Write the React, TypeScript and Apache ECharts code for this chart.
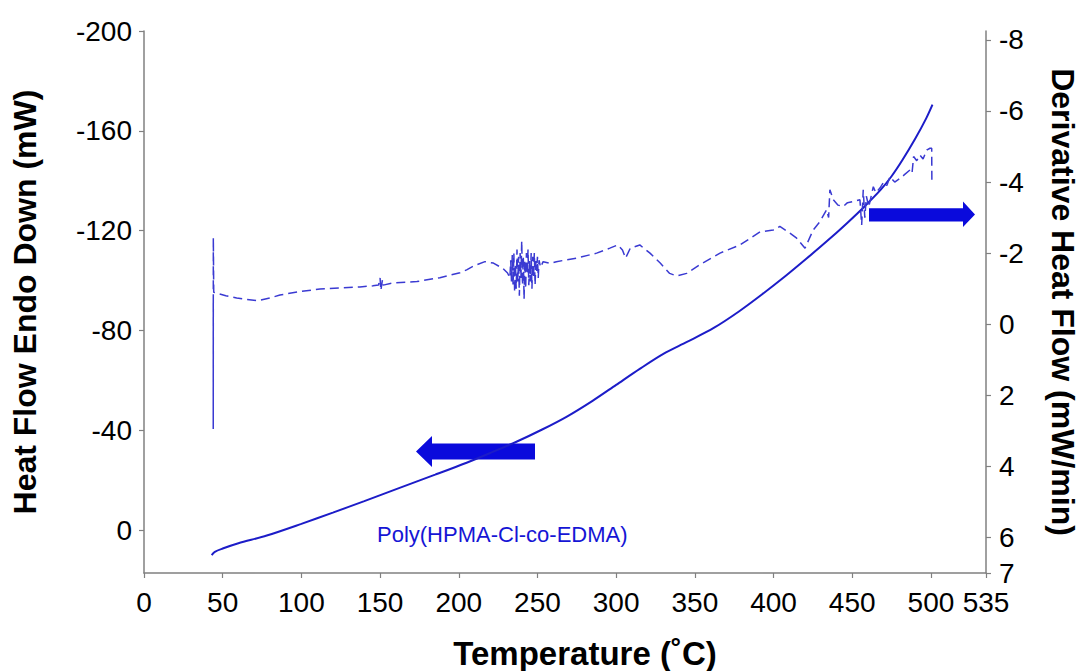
import React, { useEffect, useRef } from "react";
import * as echarts from "echarts";

// Heat flow (left axis, mW) vs temperature (°C)
const heatTemp = [43, 45, 50, 60, 78, 100, 120, 140, 162, 185, 205, 220, 237, 253, 269, 285, 300, 315, 330, 345, 362, 378, 393, 408, 421, 434, 447, 458, 468, 475, 482, 490, 497, 501];
const heatFlow = [10, 8.7, 7.4, 5.3, 2.2, -2.5, -7.0, -11.6, -16.8, -22.2, -27.0, -30.9, -35.5, -40.3, -45.6, -51.8, -58.2, -64.6, -70.6, -75.4, -81.0, -87.6, -94.6, -102.0, -108.8, -115.8, -123.2, -129.8, -136.3, -141.8, -148.4, -156.8, -165.0, -170.5];

// Derivative heat flow (right axis, mW/min) vs temperature (°C)
const derivTemp = [
  44.0, 44.0, 44.05, 44.3, 46.2, 52, 58.9, 65, 72.4, 80, 86.4, 99.1, 111.8, 124.5, 137.2, 145.5, 149, 150, 150.5, 151.5, 152,
  158.2, 173.4, 188, 200.8, 205, 210, 216.6, 222, 228, 231,
  232.5, 233, 233.5, 234, 234.5, 235, 235.5, 236, 236.5, 237, 237.5, 238, 238.5, 239, 239.5, 240, 240.5, 241, 241.5, 242,
  242.5, 243, 243.5, 244, 244.5, 245, 245.5, 246, 246.5, 247, 247.5, 248, 248.5, 249, 249.5, 250, 250.5, 251, 252,
  253.6, 258, 262, 275, 287.6, 296, 301, 304, 306, 309, 315, 321.5, 328, 334, 338.4, 344.8, 353, 366, 378.7, 391.4,
  399.8, 404, 410.4, 414.7, 420, 425.2, 429.5, 433.7, 435, 435.8, 438, 441, 444.3, 447, 450.6, 454.9, 456, 457, 458, 459,
  460.5, 463.4, 465, 467.6, 470, 472, 474, 477, 480.3, 483, 486.7, 488, 489, 491, 493, 495, 497.3, 499.4, 500.5, 500.6
];
const derivFlow = [
  -0.6, 2.95, -2.43, -0.9, -0.87, -0.8, -0.74, -0.7, -0.66, -0.74, -0.82, -0.92, -0.99, -1.02, -1.05, -1.08, -1.1, -1.3, -0.95, -1.25, -1.1,
  -1.16, -1.2, -1.31, -1.45, -1.53, -1.65, -1.76, -1.72, -1.57, -1.44,
  -1.3, -1.8, -1.2, -1.95, -1.1, -2.0, -0.9, -1.7, -1.0, -2.1, -1.2, -1.9, -0.8, -2.0, -1.3, -2.35, -1.1, -1.9, -0.7, -1.8,
  -1.0, -2.0, -1.4, -2.1, -1.1, -1.8, -1.2, -2.0, -1.0, -1.9, -1.3, -2.0, -1.1, -1.8, -1.5, -1.9, -1.3, -1.8, -1.6,
  -1.76, -1.71, -1.76, -1.86, -2.0, -2.14, -2.23, -2.09, -1.86, -2.14, -2.23, -2.0, -1.72, -1.43, -1.36, -1.43, -1.67, -2.0, -2.23, -2.6,
  -2.65, -2.75, -2.56, -2.42, -2.14, -2.65, -2.89, -3.22, -3.0, -3.78, -3.5, -3.35, -3.31, -3.42, -3.45, -3.5, -2.79, -3.78, -3.0, -3.6,
  -3.3, -3.87, -3.7, -3.83, -4.0, -3.9, -4.15, -4.0, -4.1, -4.2, -4.34, -4.25, -4.72, -4.6, -4.76, -4.65, -4.9, -4.95, -4.95, -4.06
];

const xTicks = { min: 0, max: 535, interval: 50 };
const leftTicks = [-200, -160, -120, -80, -40, 0];
const rightTicks = [-8, -6, -4, -2, 0, 2, 4, 6, 7];

const SANS = "'Liberation Sans', Arial, sans-serif";
const AXIS_COLOR = "#808080";

export default function App() {
  const ref = useRef<HTMLDivElement>(null);

  useEffect(() => {
    if (!ref.current) return;
    const chart = echarts.init(ref.current, null, { renderer: "svg" });
    const axisLine = { show: true, onZero: false, lineStyle: { color: AXIS_COLOR, width: 1.5 } };
    const axisTickBase = { show: true, inside: false, length: 5, lineStyle: { color: AXIS_COLOR, width: 1.2 } };
    chart.setOption({
      animation: false,
      backgroundColor: "#ffffff",
      textStyle: { fontFamily: SANS },
      grid: { left: 144, right: 94, top: 31, bottom: 98, outerBoundsMode: "none" },
      xAxis: {
        type: "value",
        min: xTicks.min,
        max: xTicks.max,
        interval: xTicks.interval,
        axisLine,
        axisTick: axisTickBase,
        splitLine: { show: false },
        axisLabel: { fontSize: 28, color: "#000", margin: 15 },
        name: "Temperature (˚C)",
        nameLocation: "middle",
        nameGap: 64,
        nameTextStyle: { fontWeight: "bold", fontSize: 33, color: "#000", padding: [0, 0, 0, 40] },
      },
      yAxis: [
        {
          type: "value",
          position: "left",
          inverse: true,
          min: -200,
          max: 17.2,
          axisLine,
          axisTick: { ...axisTickBase, customValues: leftTicks },
          splitLine: { show: false },
          axisLabel: { customValues: leftTicks, fontSize: 28, color: "#000", margin: 12 },
          name: "Heat Flow Endo Down (mW)",
          nameLocation: "middle",
          nameRotate: 90,
          nameGap: 103,
          nameTextStyle: { fontWeight: "bold", fontSize: 32, color: "#000" },
        },
        {
          type: "value",
          position: "right",
          inverse: true,
          min: -8.25,
          max: 7,
          axisLine,
          axisTick: { ...axisTickBase, customValues: rightTicks },
          splitLine: { show: false },
          axisLabel: { customValues: rightTicks, fontSize: 28, color: "#000", margin: 13 },
          name: "Derivative Heat Flow (mW/min)",
          nameLocation: "middle",
          nameRotate: -90,
          nameGap: 61,
          nameTextStyle: { fontWeight: "bold", fontSize: 32, color: "#000" },
        },
      ],
      series: [
        {
          name: "Heat Flow",
          type: "line",
          yAxisIndex: 0,
          showSymbol: false,
          smooth: 0.3,
          data: heatTemp.map((t, i) => [t, heatFlow[i]]),
          lineStyle: { color: "#1c1cc8", width: 2 },
        },
        {
          name: "Derivative Heat Flow",
          type: "line",
          yAxisIndex: 1,
          showSymbol: false,
          data: derivTemp.map((t, i) => [t, derivFlow[i]]),
          lineStyle: { color: "#3a3ad2", width: 1.5, type: [9, 5] },
        },
      ],
      graphic: [
        {
          type: "polygon",
          shape: { points: [[416, 451.5], [432, 436], [432, 443.5], [535, 443.5], [535, 459.5], [432, 459.5], [432, 467]] },
          style: { fill: "#0a0adc" },
        },
        {
          type: "polygon",
          shape: { points: [[975, 214.5], [963, 201.5], [963, 208.3], [869, 208.3], [869, 221.5], [963, 221.5], [963, 227]] },
          style: { fill: "#0a0adc" },
        },
        {
          type: "text",
          x: 377,
          y: 534,
          style: { text: "Poly(HPMA-Cl-co-EDMA)", fill: "#1515d5", font: `22px ${SANS}`, verticalAlign: "middle" },
        },
      ],
    });
    return () => chart.dispose();
  }, []);

  return <div ref={ref} style={{ width: 1080, height: 671, position: "absolute", left: 0, top: 0 }} />;
}
